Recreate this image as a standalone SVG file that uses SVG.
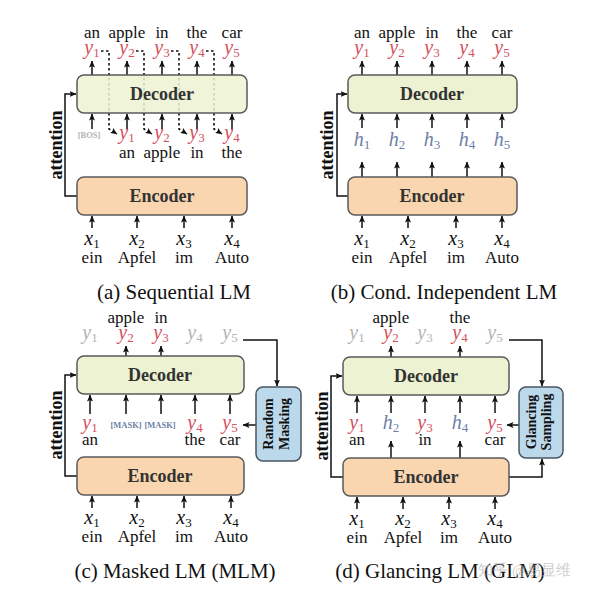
<svg xmlns="http://www.w3.org/2000/svg" width="600" height="595" viewBox="0 0 600 595">
<defs>
<marker id="ah" markerWidth="7" markerHeight="6" refX="6.5" refY="3" orient="auto" markerUnits="userSpaceOnUse"><path d="M0,0 L7,3 L0,6 L1.5,3 z" fill="#111"/></marker>
<marker id="ahs" markerWidth="7" markerHeight="6" refX="6.5" refY="3" orient="auto" markerUnits="userSpaceOnUse"><path d="M0,0 L7,3 L0,6 L1.5,3 z" fill="#111"/></marker>
<style>
.ln{fill:none;stroke:#111;stroke-width:1.5}
.ar{fill:none;stroke:#111;stroke-width:1.5;marker-end:url(#ah)}
.ds{fill:none;stroke:#111;stroke-width:1.6;stroke-dasharray:2.5 2.5;marker-end:url(#ahs)}
.dec{fill:#edf2d2;stroke:#5a5a5a;stroke-width:1.5}
.enc{fill:#f9d6b0;stroke:#5a5a5a;stroke-width:1.5}
.bx{fill:#bcd9ec;stroke:#4a5560;stroke-width:1.5}
text{font-family:"Liberation Serif","Times New Roman",serif}
.w{font-size:17px;fill:#111;text-anchor:middle}
.v{font-size:20px;font-style:italic;text-anchor:middle}
.s{font-size:13px;font-style:normal}
.r{fill:#d4505c}
.g{fill:#b3b3b3}
.h{fill:#6e7fa6}
.k{fill:#111}
.lbl{font-size:18px;font-weight:bold;fill:#333;text-anchor:middle}
.cap{font-size:21px;fill:#111;text-anchor:middle}
.att{font-size:18px;font-weight:bold;fill:#111;text-anchor:middle}
.bt{font-size:14px;font-weight:bold;fill:#111;text-anchor:middle}
.tk{font-size:8.5px;font-weight:bold;text-anchor:middle}
</style>
</defs>

<!-- ===================== (a) Sequential LM ===================== -->
<g id="conn-a">
<path class="ar" d="M92 75V61"/><path class="ar" d="M127 75V61"/><path class="ar" d="M162 75V61"/><path class="ar" d="M197 75V61"/><path class="ar" d="M232 75V61"/>
<path class="ds" d="M101 51H109V129L117 134"/>
<path class="ds" d="M136 51H144V129L152 134"/>
<path class="ds" d="M171 51H179V129L187 134"/>
<path class="ds" d="M206 51H214V129L222 134"/>
<path class="ar" d="M92 129V114"/><path class="ar" d="M127 129V114"/><path class="ar" d="M162 129V114"/><path class="ar" d="M197 129V114"/><path class="ar" d="M232 129V114"/>
<path class="ar" d="M92 228V216"/><path class="ar" d="M137 228V216"/><path class="ar" d="M184 228V216"/><path class="ar" d="M232 228V216"/>
<path class="ar" d="M77 196H65V94H76"/>
</g>
<g id="decoder-a"><rect class="dec" x="77" y="75" width="170" height="38" rx="7" fill-opacity="0.85"/><text class="lbl" x="162" y="100">Decoder</text></g>
<g id="encoder-a"><rect class="enc" x="77" y="177" width="170" height="38" rx="7"/><text class="lbl" x="162" y="202">Encoder</text></g>
<g id="labels-a">
<text class="w" x="92" y="38">an</text><text class="w" x="127" y="38">apple</text><text class="w" x="162" y="38">in</text><text class="w" x="197" y="38">the</text><text class="w" x="232" y="38">car</text>
<text class="v r" x="92" y="54">y<tspan class="s" dy="3">1</tspan></text>
<text class="v r" x="127" y="54">y<tspan class="s" dy="3">2</tspan></text>
<text class="v r" x="162" y="54">y<tspan class="s" dy="3">3</tspan></text>
<text class="v r" x="197" y="54">y<tspan class="s" dy="3">4</tspan></text>
<text class="v r" x="232" y="54">y<tspan class="s" dy="3">5</tspan></text>
<text class="tk g" x="89" y="138">[BOS]</text>
<text class="v r" x="127" y="139">y<tspan class="s" dy="3">1</tspan></text>
<text class="v r" x="162" y="139">y<tspan class="s" dy="3">2</tspan></text>
<text class="v r" x="197" y="139">y<tspan class="s" dy="3">3</tspan></text>
<text class="v r" x="232" y="139">y<tspan class="s" dy="3">4</tspan></text>
<text class="w" x="127" y="158">an</text><text class="w" x="162" y="158">apple</text><text class="w" x="197" y="158">in</text><text class="w" x="232" y="158">the</text>
<text class="v k" x="92" y="245">x<tspan class="s" dy="3">1</tspan></text>
<text class="v k" x="137" y="245">x<tspan class="s" dy="3">2</tspan></text>
<text class="v k" x="184" y="245">x<tspan class="s" dy="3">3</tspan></text>
<text class="v k" x="232" y="245">x<tspan class="s" dy="3">4</tspan></text>
<text class="w" x="92" y="263">ein</text><text class="w" x="137" y="263">Apfel</text><text class="w" x="184" y="263">im</text><text class="w" x="232" y="263">Auto</text>
<text class="att" transform="translate(62,145) rotate(-90)">attention</text>
<text class="cap" x="174" y="299">(a) Sequential LM</text>
</g>

<!-- ===================== (b) Cond. Independent LM ===================== -->
<g id="conn-b">
<path class="ar" d="M362 75V61"/><path class="ar" d="M397 75V61"/><path class="ar" d="M432 75V61"/><path class="ar" d="M467 75V61"/><path class="ar" d="M502 75V61"/>
<path class="ar" d="M362 128V114"/><path class="ar" d="M397 128V114"/><path class="ar" d="M432 128V114"/><path class="ar" d="M467 128V114"/><path class="ar" d="M502 128V114"/>
<path class="ar" d="M362 177V162"/><path class="ar" d="M397 177V162"/><path class="ar" d="M432 177V162"/><path class="ar" d="M467 177V162"/><path class="ar" d="M502 177V162"/>
<path class="ar" d="M362 228V216"/><path class="ar" d="M408 228V216"/><path class="ar" d="M456 228V216"/><path class="ar" d="M502 228V216"/>
<path class="ar" d="M348 196H337V94H347"/>
</g>
<g id="decoder-b"><rect class="dec" x="348" y="75" width="169" height="38" rx="7"/><text class="lbl" x="432" y="100">Decoder</text></g>
<g id="encoder-b"><rect class="enc" x="348" y="177" width="169" height="38" rx="7"/><text class="lbl" x="432" y="202">Encoder</text></g>
<g id="labels-b">
<text class="w" x="362" y="38">an</text><text class="w" x="397" y="38">apple</text><text class="w" x="432" y="38">in</text><text class="w" x="467" y="38">the</text><text class="w" x="502" y="38">car</text>
<text class="v r" x="362" y="54">y<tspan class="s" dy="3">1</tspan></text>
<text class="v r" x="397" y="54">y<tspan class="s" dy="3">2</tspan></text>
<text class="v r" x="432" y="54">y<tspan class="s" dy="3">3</tspan></text>
<text class="v r" x="467" y="54">y<tspan class="s" dy="3">4</tspan></text>
<text class="v r" x="502" y="54">y<tspan class="s" dy="3">5</tspan></text>
<text class="v h" x="362" y="146">h<tspan class="s" dy="3">1</tspan></text>
<text class="v h" x="397" y="146">h<tspan class="s" dy="3">2</tspan></text>
<text class="v h" x="432" y="146">h<tspan class="s" dy="3">3</tspan></text>
<text class="v h" x="467" y="146">h<tspan class="s" dy="3">4</tspan></text>
<text class="v h" x="502" y="146">h<tspan class="s" dy="3">5</tspan></text>
<text class="v k" x="362" y="245">x<tspan class="s" dy="3">1</tspan></text>
<text class="v k" x="408" y="245">x<tspan class="s" dy="3">2</tspan></text>
<text class="v k" x="456" y="245">x<tspan class="s" dy="3">3</tspan></text>
<text class="v k" x="502" y="245">x<tspan class="s" dy="3">4</tspan></text>
<text class="w" x="362" y="263">ein</text><text class="w" x="408" y="263">Apfel</text><text class="w" x="456" y="263">im</text><text class="w" x="502" y="263">Auto</text>
<text class="att" transform="translate(333,145) rotate(-90)">attention</text>
<text class="cap" x="444" y="299">(b) Cond. Independent LM</text>
</g>

<!-- ===================== (c) Masked LM ===================== -->
<g id="conn-c">
<path class="ar" d="M126 356V346"/><path class="ar" d="M161 356V346"/>
<path class="ar" d="M243 340H277V386"/>
<path class="ar" d="M90 414V395"/><path class="ar" d="M126 414V395"/><path class="ar" d="M161 414V395"/><path class="ar" d="M195 414V395"/><path class="ar" d="M230 414V395"/>
<path class="ar" d="M256 425H243"/>
<path class="ar" d="M92 508V496"/><path class="ar" d="M137 508V496"/><path class="ar" d="M184 508V496"/><path class="ar" d="M231 508V496"/>
<path class="ar" d="M77 476H65V375H76"/>
</g>
<g id="decoder-c"><rect class="dec" x="77" y="356" width="167" height="38" rx="7"/><text class="lbl" x="160" y="381">Decoder</text></g>
<g id="encoder-c"><rect class="enc" x="77" y="457" width="167" height="38" rx="7"/><text class="lbl" x="160" y="482">Encoder</text></g>
<g id="masking-c"><rect class="bx" x="256" y="387" width="45" height="74" rx="7"/>
<text class="bt" transform="translate(273,424) rotate(-90)">Random</text>
<text class="bt" transform="translate(289,424) rotate(-90)">Masking</text></g>
<g id="labels-c">
<text class="w" x="126" y="323">apple</text><text class="w" x="161" y="323">in</text>
<text class="v g" x="90" y="339">y<tspan class="s" dy="3">1</tspan></text>
<text class="v r" x="126" y="339">y<tspan class="s" dy="3">2</tspan></text>
<text class="v r" x="161" y="339">y<tspan class="s" dy="3">3</tspan></text>
<text class="v g" x="195" y="339">y<tspan class="s" dy="3">4</tspan></text>
<text class="v g" x="230" y="339">y<tspan class="s" dy="3">5</tspan></text>
<text class="v r" x="90" y="429">y<tspan class="s" dy="3">1</tspan></text>
<text class="tk h" x="126" y="428">[MASK]</text>
<text class="tk h" x="160" y="428">[MASK]</text>
<text class="v r" x="195" y="429">y<tspan class="s" dy="3">4</tspan></text>
<text class="v r" x="230" y="429">y<tspan class="s" dy="3">5</tspan></text>
<text class="w" x="90" y="445">an</text><text class="w" x="195" y="445">the</text><text class="w" x="230" y="445">car</text>
<text class="v k" x="92" y="524">x<tspan class="s" dy="3">1</tspan></text>
<text class="v k" x="137" y="524">x<tspan class="s" dy="3">2</tspan></text>
<text class="v k" x="184" y="524">x<tspan class="s" dy="3">3</tspan></text>
<text class="v k" x="231" y="524">x<tspan class="s" dy="3">4</tspan></text>
<text class="w" x="92" y="542">ein</text><text class="w" x="137" y="542">Apfel</text><text class="w" x="184" y="542">im</text><text class="w" x="231" y="542">Auto</text>
<text class="att" transform="translate(62,425) rotate(-90)">attention</text>
<text class="cap" x="175" y="578">(c) Masked LM (MLM)</text>
</g>

<!-- ===================== (d) Glancing LM ===================== -->
<g id="conn-d">
<path class="ar" d="M391 357V346"/><path class="ar" d="M460 357V346"/>
<path class="ar" d="M509 340H542V386"/>
<path class="ar" d="M357 413V396"/><path class="ar" d="M391 413V396"/><path class="ar" d="M425 413V396"/><path class="ar" d="M460 413V396"/><path class="ar" d="M495 413V396"/>
<path class="ar" d="M391 458V441"/><path class="ar" d="M460 458V441"/>
<path class="ar" d="M519 425H507"/>
<path class="ar" d="M509 477H542V459"/>
<path class="ar" d="M357 509V497"/><path class="ar" d="M403 509V497"/><path class="ar" d="M449 509V497"/><path class="ar" d="M495 509V497"/>
<path class="ar" d="M343 477H331V376H342"/>
</g>
<g id="decoder-d"><rect class="dec" x="343" y="357" width="166" height="38" rx="7"/><text class="lbl" x="426" y="382">Decoder</text></g>
<g id="encoder-d"><rect class="enc" x="343" y="458" width="166" height="38" rx="7"/><text class="lbl" x="426" y="483">Encoder</text></g>
<g id="sampling-d"><rect class="bx" x="519" y="387" width="44" height="71" rx="7"/>
<text class="bt" transform="translate(536,422) rotate(-90)">Glancing</text>
<text class="bt" transform="translate(551,422) rotate(-90)">Sampling</text></g>
<g id="labels-d">
<text class="w" x="391" y="323">apple</text><text class="w" x="460" y="323">the</text>
<text class="v g" x="357" y="339">y<tspan class="s" dy="3">1</tspan></text>
<text class="v r" x="391" y="339">y<tspan class="s" dy="3">2</tspan></text>
<text class="v g" x="425" y="339">y<tspan class="s" dy="3">3</tspan></text>
<text class="v r" x="460" y="339">y<tspan class="s" dy="3">4</tspan></text>
<text class="v g" x="495" y="339">y<tspan class="s" dy="3">5</tspan></text>
<text class="v r" x="357" y="429">y<tspan class="s" dy="3">1</tspan></text>
<text class="v h" x="391" y="429">h<tspan class="s" dy="3">2</tspan></text>
<text class="v r" x="425" y="429">y<tspan class="s" dy="3">3</tspan></text>
<text class="v h" x="460" y="429">h<tspan class="s" dy="3">4</tspan></text>
<text class="v r" x="495" y="429">y<tspan class="s" dy="3">5</tspan></text>
<text class="w" x="357" y="445">an</text><text class="w" x="425" y="445">in</text><text class="w" x="495" y="445">car</text>
<text class="v k" x="357" y="525">x<tspan class="s" dy="3">1</tspan></text>
<text class="v k" x="403" y="525">x<tspan class="s" dy="3">2</tspan></text>
<text class="v k" x="449" y="525">x<tspan class="s" dy="3">3</tspan></text>
<text class="v k" x="495" y="525">x<tspan class="s" dy="3">4</tspan></text>
<text class="w" x="357" y="543">ein</text><text class="w" x="403" y="543">Apfel</text><text class="w" x="449" y="543">im</text><text class="w" x="495" y="543">Auto</text>
<text class="att" transform="translate(328,426) rotate(-90)">attention</text>
<text class="cap" x="440" y="578">(d) Glancing LM (GLM)</text>
</g>
<g id="watermark"><text x="478" y="575" font-family="'Noto Sans CJK SC',sans-serif" font-size="15" fill="#bdbdbd" fill-opacity="0.75">知乎 @易显维</text></g>
</svg>
